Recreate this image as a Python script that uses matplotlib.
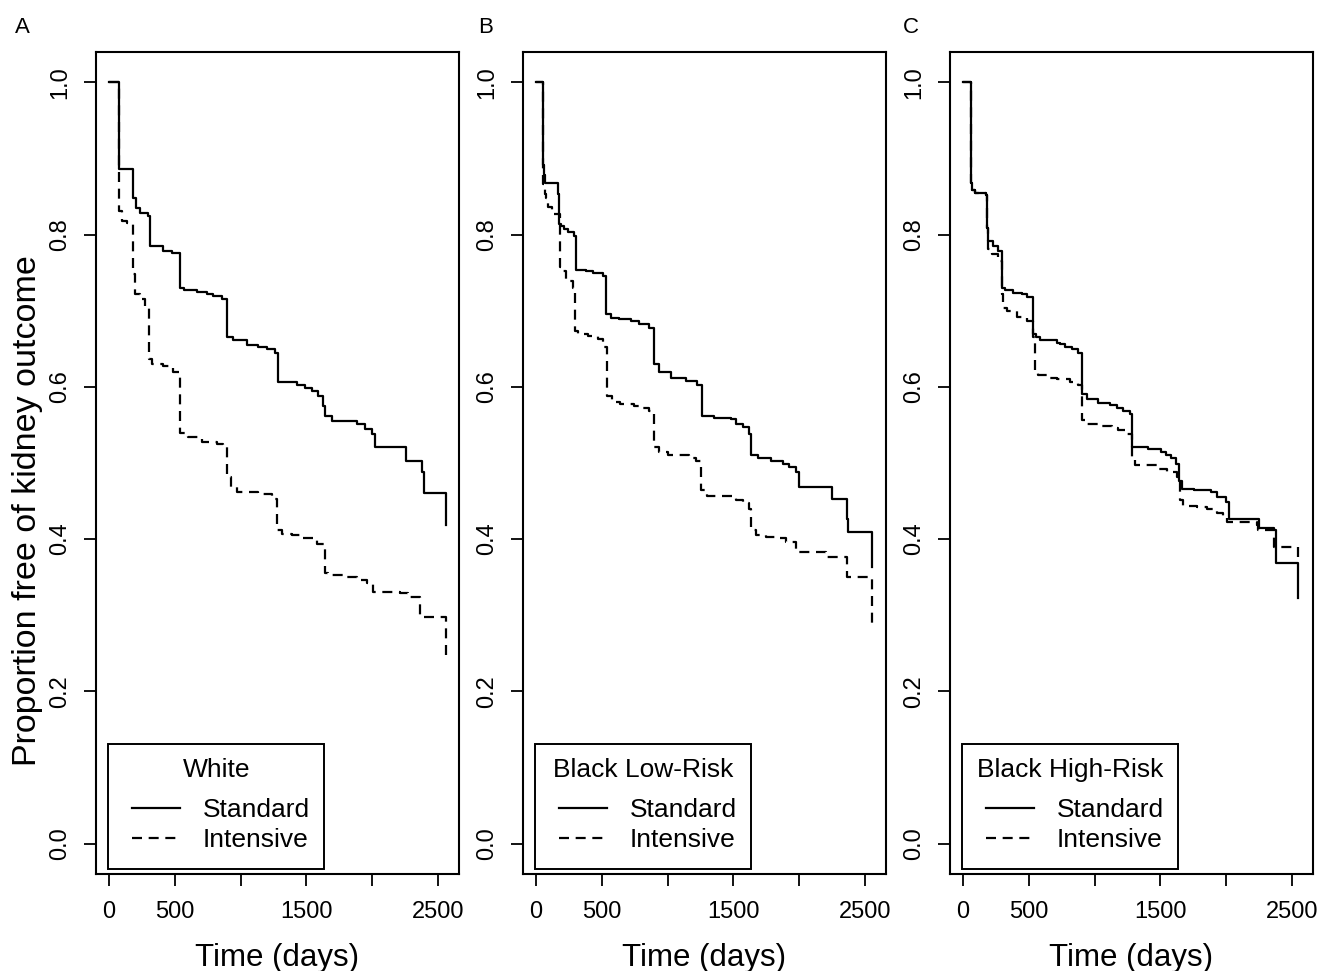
import matplotlib
matplotlib.use("Agg")
import matplotlib.pyplot as plt
from matplotlib.patches import Rectangle

plt.rcParams['font.family'] = ['Liberation Sans', 'DejaVu Sans']

# ---------------- data ----------------
panel_letters = ["A", "B", "C"]
groups = ["White", "Black Low-Risk", "Black High-Risk"]
series_names = ["Standard", "Intensive"]

a_std_t = [0, 74, 185, 203, 236, 299, 312, 413, 477, 540, 573, 667, 743, 793, 857, 895, 945, 1047, 1136,
           1199, 1262, 1285, 1427, 1490, 1541, 1592, 1630, 1645, 1693, 1884, 1947, 1998, 2023, 2259, 2378,
           2392, 2560]
a_std_s = [1.0, 0.886, 0.848, 0.835, 0.829, 0.824, 0.785, 0.779, 0.776, 0.730, 0.727, 0.725, 0.722, 0.719,
           0.716, 0.665, 0.661, 0.655, 0.653, 0.650, 0.645, 0.606, 0.602, 0.599, 0.594, 0.588, 0.575, 0.562,
           0.555, 0.551, 0.545, 0.538, 0.521, 0.503, 0.488, 0.460, 0.418]
a_int_t = [0, 74, 96, 134, 180, 185, 198, 236, 274, 307, 325, 413, 489, 540, 578, 603, 705, 819, 869, 900,
           928, 971, 1136, 1237, 1275, 1313, 1389, 1478, 1579, 1643, 1668, 1782, 1884, 1960, 2005, 2213,
           2276, 2365, 2560]
a_int_s = [1.0, 0.831, 0.818, 0.815, 0.809, 0.748, 0.722, 0.715, 0.704, 0.637, 0.630, 0.627, 0.619, 0.540,
           0.538, 0.534, 0.528, 0.525, 0.521, 0.481, 0.468, 0.462, 0.459, 0.453, 0.412, 0.407, 0.405, 0.401,
           0.394, 0.355, 0.353, 0.350, 0.346, 0.342, 0.331, 0.329, 0.324, 0.298, 0.241]

b_std_t = [0, 55, 63, 66, 170, 177, 190, 215, 240, 291, 304, 380, 430, 506, 532, 570, 633, 722, 785, 861,
           899, 937, 1026, 1140, 1228, 1266, 1355, 1482, 1520, 1571, 1622, 1635, 1685, 1787, 1875, 1926,
           1977, 2003, 2248, 2365, 2372, 2555]
b_std_s = [1.0, 0.892, 0.879, 0.868, 0.853, 0.814, 0.811, 0.807, 0.803, 0.798, 0.754, 0.752, 0.749, 0.746,
           0.696, 0.691, 0.689, 0.687, 0.682, 0.678, 0.630, 0.619, 0.612, 0.608, 0.602, 0.562, 0.559, 0.558,
           0.551, 0.547, 0.538, 0.510, 0.506, 0.503, 0.499, 0.495, 0.488, 0.469, 0.453, 0.427, 0.409, 0.363]
b_int_t = [0, 55, 66, 76, 88, 120, 182, 202, 228, 278, 299, 316, 392, 468, 506, 540, 578, 641, 742, 793,
           856, 899, 937, 1001, 1077, 1166, 1216, 1254, 1300, 1520, 1571, 1622, 1635, 1673, 1749, 1838,
           1901, 1977, 2205, 2365, 2555]
b_int_s = [1.0, 0.866, 0.853, 0.848, 0.837, 0.827, 0.757, 0.752, 0.739, 0.730, 0.674, 0.669, 0.667, 0.663,
           0.652, 0.588, 0.580, 0.578, 0.575, 0.572, 0.568, 0.521, 0.514, 0.511, 0.510, 0.507, 0.503, 0.464,
           0.456, 0.451, 0.447, 0.440, 0.412, 0.405, 0.403, 0.401, 0.396, 0.383, 0.377, 0.350, 0.283]

c_std_t = [0, 60, 65, 91, 172, 180, 193, 231, 269, 294, 320, 383, 447, 485, 535, 553, 586, 713, 738, 776,
           826, 877, 902, 940, 1028, 1117, 1168, 1218, 1270, 1282, 1403, 1504, 1542, 1580, 1618, 1643, 1669,
           1757, 1884, 1935, 1998, 2023, 2251, 2365, 2378, 2550]
c_std_s = [1.0, 0.868, 0.859, 0.855, 0.852, 0.809, 0.792, 0.785, 0.779, 0.730, 0.727, 0.724, 0.722, 0.718,
           0.669, 0.665, 0.661, 0.658, 0.656, 0.653, 0.650, 0.645, 0.591, 0.584, 0.579, 0.576, 0.572, 0.568,
           0.564, 0.521, 0.519, 0.514, 0.510, 0.506, 0.499, 0.477, 0.466, 0.464, 0.462, 0.455, 0.449, 0.427,
           0.414, 0.412, 0.368, 0.322]
c_int_t = [0, 60, 65, 91, 172, 180, 190, 218, 269, 294, 307, 332, 409, 485, 535, 547, 573, 636, 713, 814,
           877, 902, 940, 1041, 1130, 1181, 1245, 1282, 1308, 1473, 1549, 1625, 1650, 1675, 1777, 1853, 1929,
           1980, 2005, 2233, 2240, 2365, 2550]
c_int_s = [1.0, 0.868, 0.859, 0.855, 0.852, 0.809, 0.781, 0.774, 0.765, 0.722, 0.704, 0.700, 0.692, 0.687,
           0.665, 0.621, 0.615, 0.612, 0.610, 0.606, 0.602, 0.556, 0.551, 0.548, 0.546, 0.543, 0.538, 0.506,
           0.497, 0.492, 0.488, 0.481, 0.451, 0.444, 0.442, 0.439, 0.434, 0.429, 0.422, 0.418, 0.412, 0.390,
           0.375]

x_ticks = [0, 500, 1000, 1500, 2000, 2500]
x_tick_labels = ["0", "500", "", "1500", "", "2500"]
y_ticks = [0.0, 0.2, 0.4, 0.6, 0.8, 1.0]
y_tick_labels = ["0.0", "0.2", "0.4", "0.6", "0.8", "1.0"]
x_label = "Time (days)"
y_label = "Proportion free of kidney outcome"

curves = [
    ((a_std_t, a_std_s), (a_int_t, a_int_s)),
    ((b_std_t, b_std_s), (b_int_t, b_int_s)),
    ((c_std_t, c_std_s), (c_int_t, c_int_s)),
]

# ---------------- layout ----------------
W, H = 1319, 971
fig = plt.figure(figsize=(W / 100, H / 100), dpi=100)

lefts_px = [95.7, 522.7, 949.7]
box_w, box_top, box_bot = 363, 52, 874
box_h = box_bot - box_top
letter_x_px = [15, 478, 903]
dash = (0, (4.5, 3.0))
lw = 1.6


def fx(px, left):
    return (px - left) / box_w


def fy(py):
    return (box_bot - py) / box_h


for i, left in enumerate(lefts_px):
    ax = fig.add_axes([left / W, (H - box_bot) / H, box_w / W, box_h / H])
    (st, ss), (it, iss) = curves[i]
    ax.step(st, ss, where='post', color='black', lw=lw)
    ax.step(it, iss, where='post', color='black', lw=lw, linestyle=dash)
    ax.set_xlim(-101, 2659)
    ax.set_ylim(-0.04, 1.04)
    ax.set_xticks(x_ticks)
    ax.set_xticklabels(x_tick_labels)
    ax.set_yticks(y_ticks)
    ax.set_yticklabels(y_tick_labels, rotation=90, va='center')
    ax.tick_params(axis='both', direction='out', length=8.5, width=1.3, labelsize=17, color='black')
    ax.tick_params(axis='x', pad=11)
    ax.tick_params(axis='y', pad=9)
    for sp in ax.spines.values():
        sp.set_linewidth(1.5)
        sp.set_color('black')
    ax.set_xlabel(x_label, fontsize=22.5, labelpad=14)
    if i == 0:
        ax.set_ylabel(y_label, fontsize=24.5)
        ax.yaxis.set_label_coords(fx(43, left), fy(511))

    # legend (R style, drawn in panel coordinates)
    lx0 = left + 12.6
    lw_box = 216
    ax.add_patch(Rectangle((fx(lx0, left), fy(869)), lw_box / box_w, 125 / box_h,
                           transform=ax.transAxes, fill=False, edgecolor='black', lw=1.4,
                           clip_on=False))
    ax.text(fx(lx0 + lw_box / 2, left), fy(777), groups[i], transform=ax.transAxes,
            ha='center', va='baseline', fontsize=19)
    for j, (name, ls, yl) in enumerate(zip(series_names, ['-', dash], [808, 838])):
        ax.plot([fx(lx0 + 23.4, left), fx(lx0 + 71.7, left)], [fy(yl), fy(yl)],
                transform=ax.transAxes, color='black', lw=lw, linestyle=ls)
        ax.text(fx(lx0 + 94.5, left), fy(yl + 9), name, transform=ax.transAxes,
                ha='left', va='baseline', fontsize=19)

    fig.text(letter_x_px[i] / W, 1 - 33 / H, panel_letters[i], fontsize=16, ha='left', va='baseline')

fig.savefig("out.png", dpi=100)
